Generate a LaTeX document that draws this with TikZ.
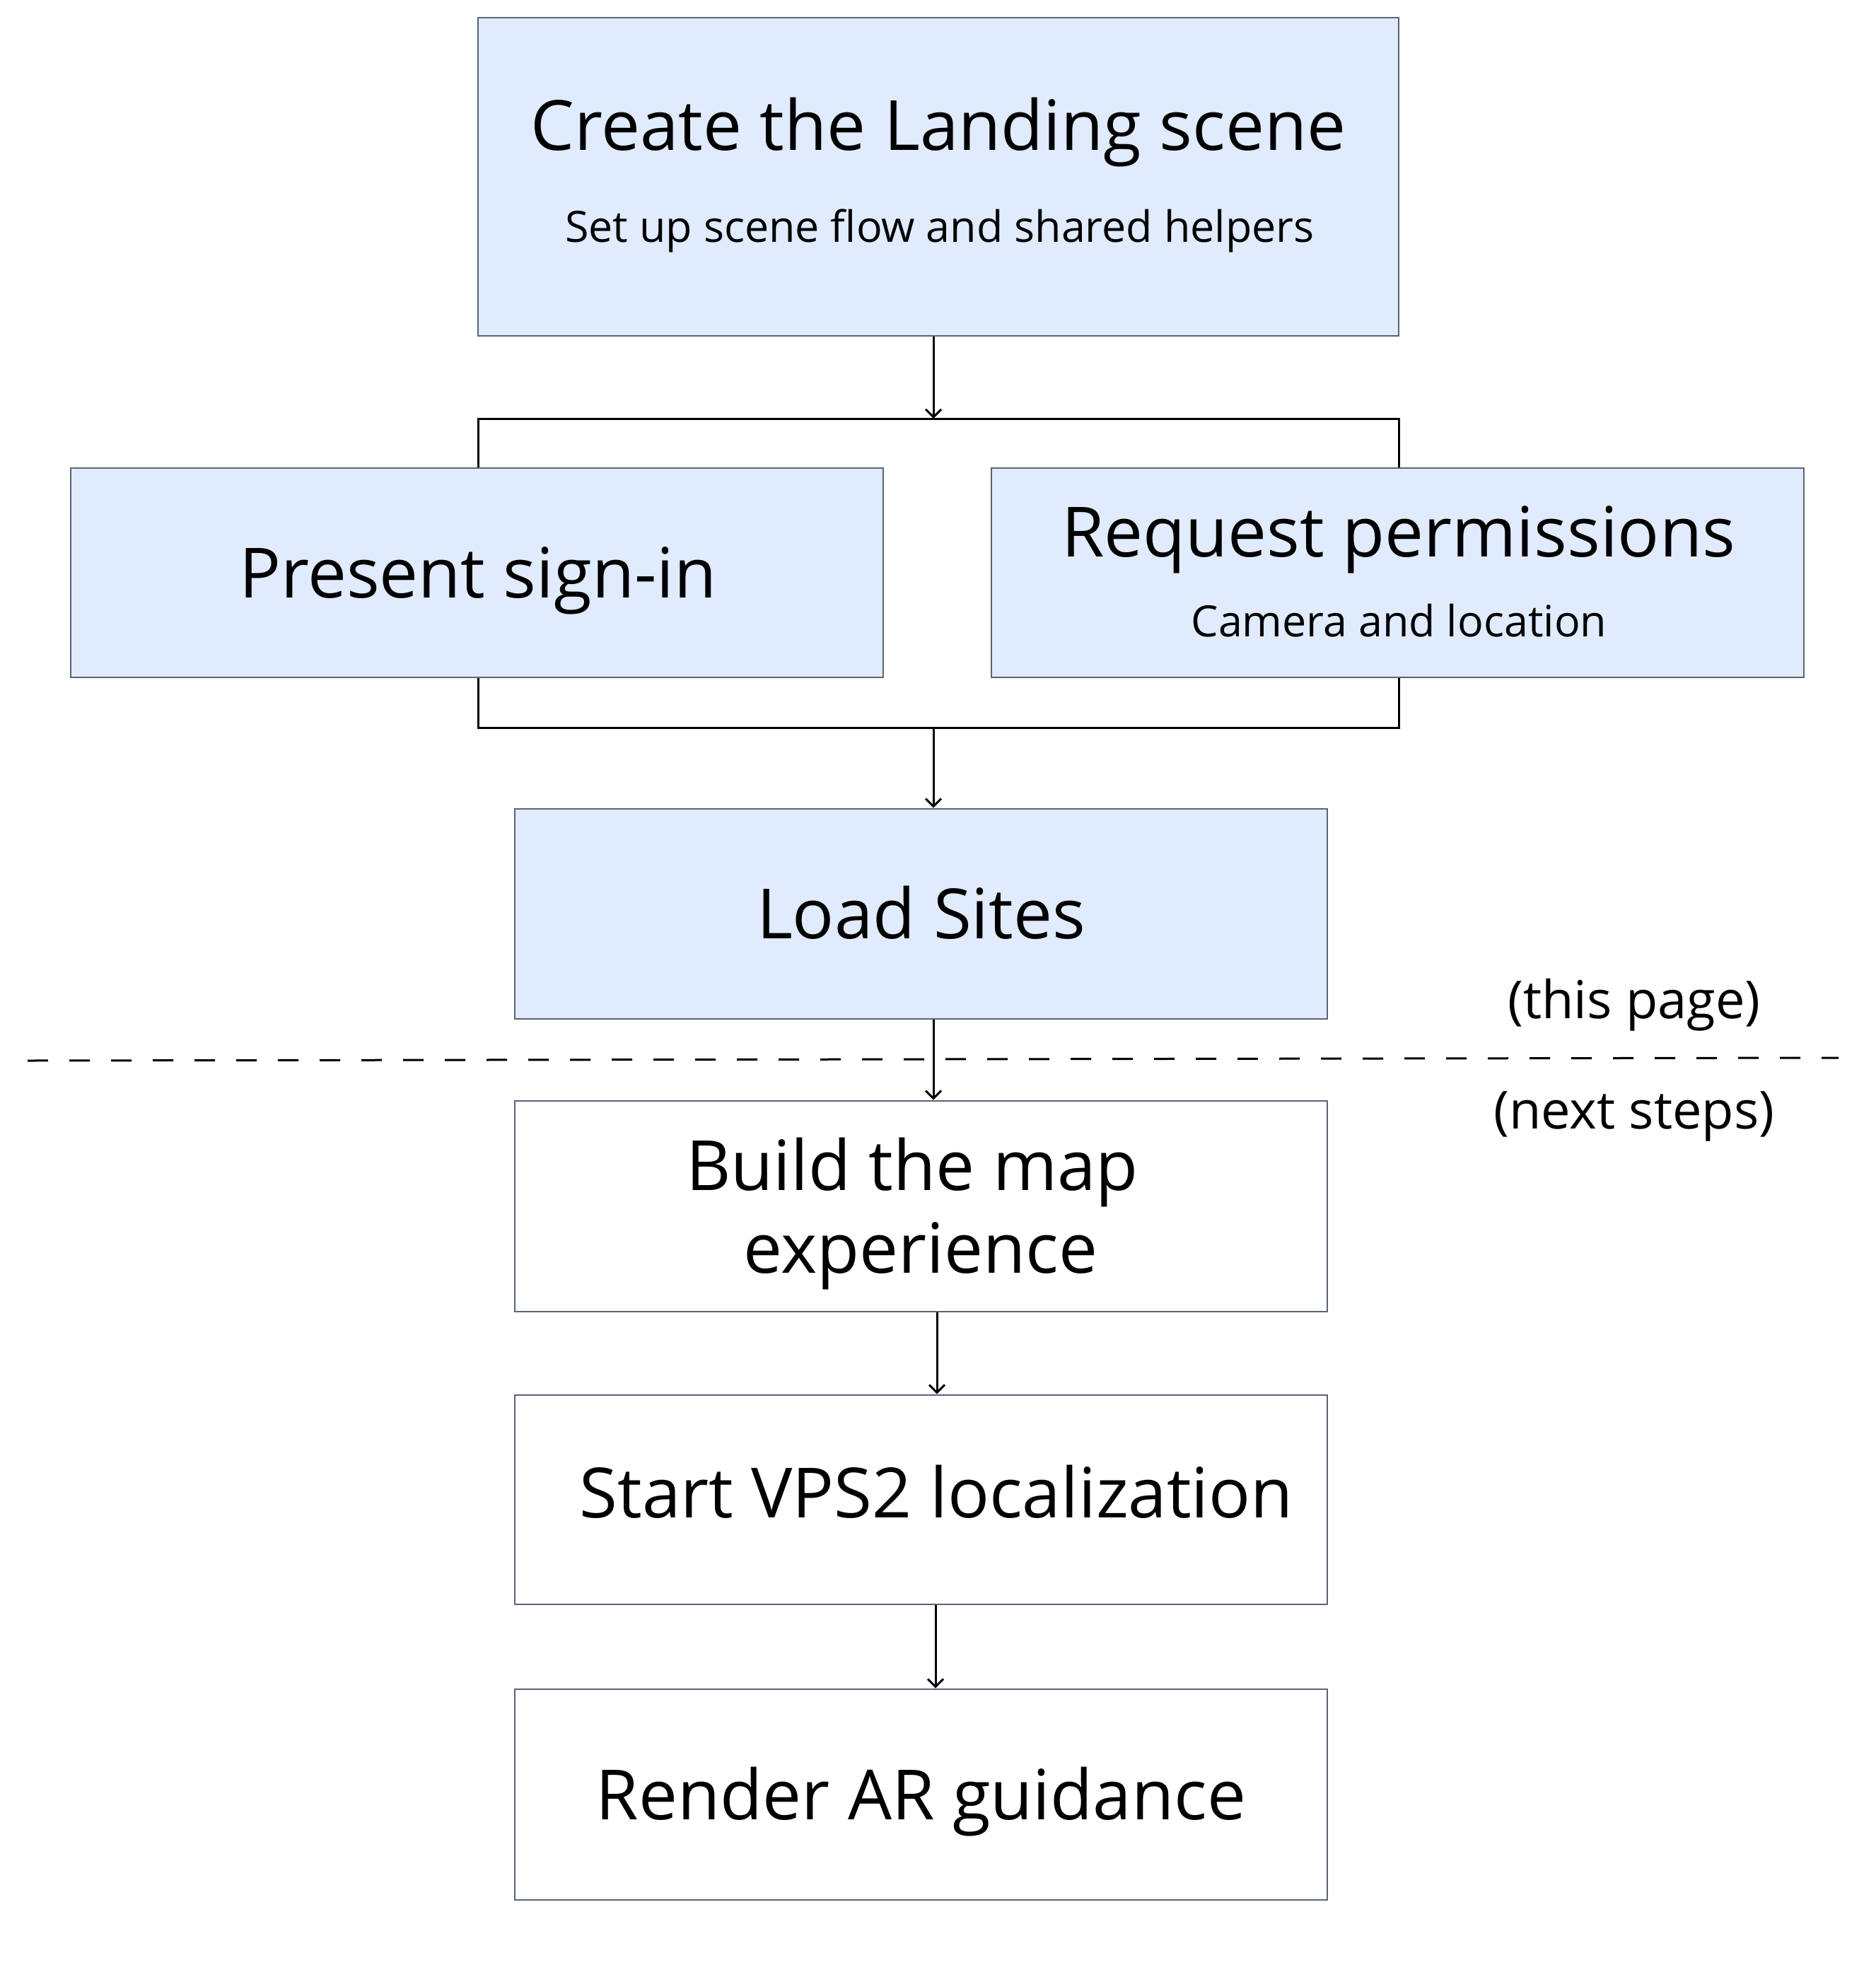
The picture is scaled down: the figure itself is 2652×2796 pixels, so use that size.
\documentclass[tikz,border=0pt]{standalone}
\usepackage{fontspec}
\setmainfont{Open Sans}
\usetikzlibrary{arrows.meta}
\definecolor{boxfill}{HTML}{E0EBFD}
\definecolor{boxline}{HTML}{5A6475}
\tikzset{
  stepbox/.style={draw=boxline, line width=2.8pt, rectangle, inner sep=0pt, minimum width=1149pt, minimum height=297pt},
  bluebox/.style={stepbox, fill=boxfill},
  whitebox/.style={stepbox, fill=white},
  bigtxt/.style={inner sep=0pt, anchor=base, font=\fontsize{98pt}{117pt}\selectfont},
  smalltxt/.style={inner sep=0pt, anchor=base, font=\fontsize{61pt}{73pt}\selectfont},
  sidetxt/.style={inner sep=0pt, anchor=base, font=\fontsize{74pt}{88pt}\selectfont},
  conn/.style={line width=3pt, black},
  arr/.style={conn, -{Straight Barb[length=11pt, width=22pt, line width=3pt]}},
}
\begin{document}
\begin{tikzpicture}[x=1pt, y=-1pt]
\useasboundingbox (0,0) rectangle (2652,2796);
\fill[white] (0,0) rectangle (2652,2796);

% boxes
\node[bluebox, minimum width=1302pt, minimum height=450pt] (top) at (1327,250) {};
\node[bluebox, minimum height=296pt] (signin) at (674.5,810) {};
\node[bluebox, minimum height=296pt] (perm) at (1976.5,810) {};
\node[bluebox] (load) at (1302.5,1292.5) {};
\node[whitebox, minimum height=298pt] (build) at (1302.5,1706) {};
\node[whitebox, minimum height=296pt] (vps) at (1302.5,2121) {};
\node[whitebox, minimum height=298pt] (render) at (1302.5,2538) {};

% texts
\node[bigtxt] (toptitle) at (1327,213) {Create the Landing scene};
\node[smalltxt] (topsub) at (1329,342) {Set up scene flow and shared helpers};
\node[bigtxt] (signintxt) at (676,845) {Present sign-in};
\node[bigtxt] (permtitle) at (1977.5,787) {Request permissions};
\node[smalltxt] (permsub) at (1978.5,900) {Camera and location};
\node[bigtxt] (loadtxt) at (1302.5,1327) {Load Sites};
\node[bigtxt] (buildtxta) at (1290,1683) {Build the map};
\node[bigtxt] (buildtxtb) at (1302,1800) {experience};
\node[bigtxt] (vpstxt) at (1324.5,2146) {Start VPS2 localization};
\node[bigtxt] (rendertxt) at (1302.5,2573) {Render AR guidance};
\node[sidetxt] (thispage) at (2311,1440) {(this page)};
\node[sidetxt] (nextsteps) at (2311,1596) {(next steps)};

% junctions
\coordinate (jtop) at (1320,592);
\coordinate (jtl) at (676,592);
\coordinate (jtr) at (1978,592);
\coordinate (jbot) at (1320,1029);
\coordinate (jbl) at (676,1029);
\coordinate (jbr) at (1978,1029);
\coordinate (dashl) at (39,1500);
\coordinate (dashr) at (2600,1496);

% connectors
\draw[arr] (top.south -| jtop) -- (jtop);
\draw[conn] (signin.north -| jtl) -- (jtl) -- (jtr) -- (perm.north -| jtr);
\draw[conn] (signin.south -| jbl) -- (jbl) -- (jbr) -- (perm.south -| jbr);
\draw[arr] (jbot) -- (load.north -| jbot);
\draw[arr] (load.south -| jbot) -- (build.north -| jbot);
\coordinate (a5) at (1325,0);
\draw[arr] (build.south -| a5) -- (vps.north -| a5);
\coordinate (a6) at (1323,0);
\draw[arr] (vps.south -| a6) -- (render.north -| a6);

% divider
\draw[line width=3pt, dash pattern=on 29pt off 30pt] (dashl) -- (dashr);
\end{tikzpicture}
\end{document}
